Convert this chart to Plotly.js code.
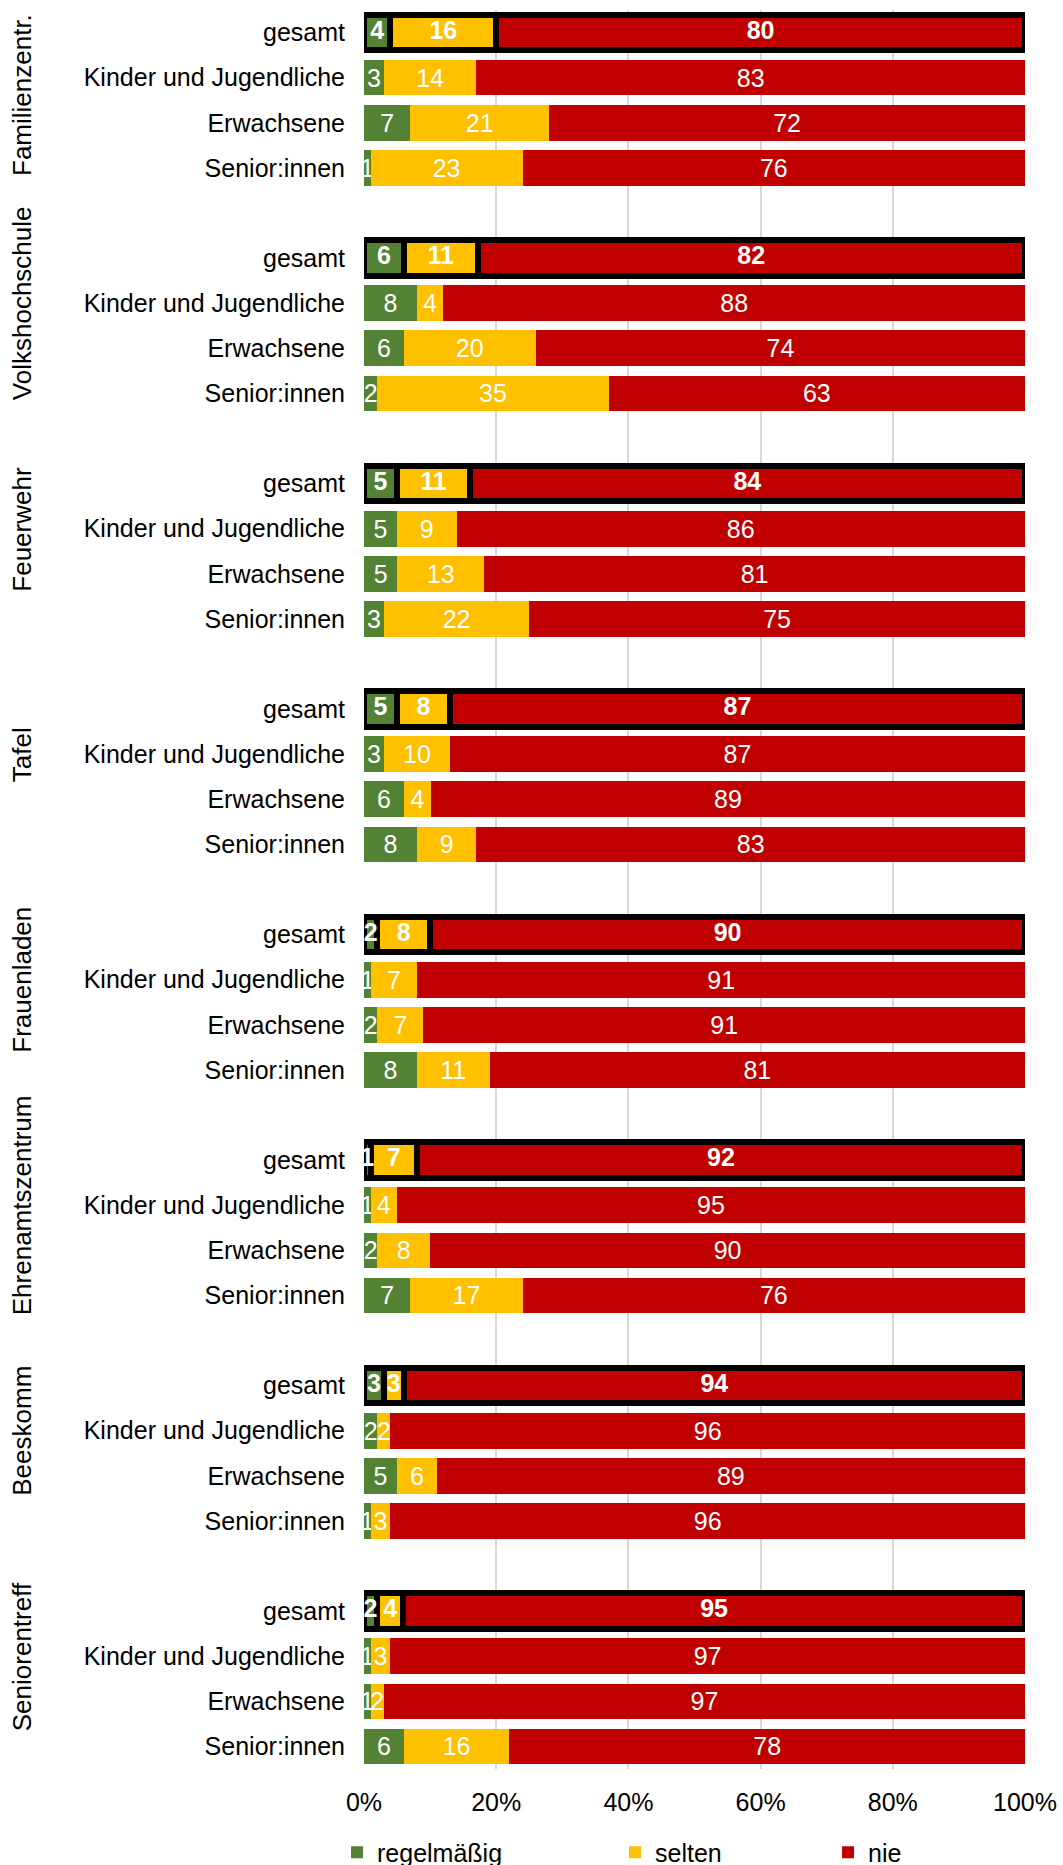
<!DOCTYPE html>
<html>
<head>
<meta charset="utf-8">
<script src="https://cdn.plot.ly/plotly-3.0.1.min.js"></script>
<style>html,body{margin:0;padding:0;background:#fff;}#chart{width:1063px;height:1865px;}</style>
</head>
<body>
<div id="chart"></div>
<script>
// ---- data ----
const groups = ['Familienzentr.', 'Volkshochschule', 'Feuerwehr', 'Tafel', 'Frauenladen', 'Ehrenamtszentrum', 'Beeskomm', 'Seniorentreff'];
const rowLabels = ['gesamt', 'Kinder und Jugendliche', 'Erwachsene', 'Senior:innen'];
const seriesNames = ['regelmäßig', 'selten', 'nie'];
const regelmaessig = [[4,3,7,1],[6,8,6,2],[5,5,5,3],[5,3,6,8],[2,1,2,8],[1,1,2,7],[3,2,5,1],[2,1,1,6]];
const selten       = [[16,14,21,23],[11,4,20,35],[11,9,13,22],[8,10,4,9],[8,7,7,11],[7,4,8,17],[3,2,6,3],[4,3,2,16]];
const nie          = [[80,83,72,76],[82,88,74,63],[84,86,81,75],[87,87,89,83],[90,91,91,81],[92,95,90,76],[94,96,89,96],[95,97,97,78]];
const xTickVals = [0, 20, 40, 60, 80, 100];
const xTickText = ['0%', '20%', '40%', '60%', '80%', '100%'];

// ---- styles ----
const FONT = 'Liberation Sans, Arial, sans-serif';
const FS = 25;
const colors = ['#548235', '#FFC000', '#C00000'];
const seriesData = [regelmaessig, selten, nie];
const SLOTS_PER_GROUP = 5;

function pos(g, r) { return g * SLOTS_PER_GROUP + r; }

const tickvals = [], ticktext = [];
groups.forEach((g, gi) => rowLabels.forEach((r, ri) => { tickvals.push(pos(gi, ri)); ticktext.push(r); }));

const traces = [];
const legendIds = ['legend', 'legend2', 'legend3'];
// normal rows
seriesData.forEach((data, si) => {
  const x = [], y = [], t = [];
  data.forEach((row, gi) => row.forEach((v, ri) => {
    if (ri === 0) return;
    x.push(v); y.push(pos(gi, ri)); t.push(String(v));
  }));
  traces.push({
    type: 'bar', orientation: 'h', name: seriesNames[si], x: x, y: y, text: t,
    texttemplate: '%{text}', textposition: 'inside', insidetextanchor: 'middle',
    textangle: 0, constraintext: 'none', cliponaxis: false,
    textfont: {family: FONT, size: FS, color: '#FFFFFF'},
    marker: {color: colors[si], line: {width: 0}},
    legend: legendIds[si], hoverinfo: 'skip'
  });
});
// "gesamt" rows with black frame
seriesData.forEach((data, si) => {
  const x = [], y = [];
  data.forEach((row, gi) => { x.push(row[0]); y.push(pos(gi, 0)); });
  traces.push({
    type: 'bar', orientation: 'h', name: seriesNames[si], x: x, y: y,
    marker: {color: colors[si], line: {width: 6, color: '#000000'}},
    showlegend: false, hoverinfo: 'skip'
  });
});
// bold labels of the "gesamt" rows, placed on top of the frames (centre of each normalised segment)
{
  const x = [], y = [], t = [];
  groups.forEach((g, gi) => {
    const vals = seriesData.map(d => d[gi][0]);
    const total = vals.reduce((a, b) => a + b, 0);
    let cum = 0;
    vals.forEach(v => {
      x.push((cum + v / 2) / total * 100); y.push(pos(gi, 0)); t.push('<b>' + v + '</b>');
      cum += v;
    });
  });
  traces.push({
    type: 'scatter', mode: 'text', x: x, y: y, text: t, textposition: 'middle center',
    textfont: {family: FONT, size: FS, color: '#FFFFFF'}, cliponaxis: false,
    showlegend: false, hoverinfo: 'skip'
  });
}

const annotations = groups.map((g, gi) => {
  const first = gi === 0;
  return {
    text: g, xref: 'paper', yref: 'y', x: -0.5174,
    y: first ? -0.5 : pos(gi, 1),
    yanchor: first ? 'top' : 'middle', yshift: first ? -2 : 0,
    xanchor: 'center', textangle: -90, showarrow: false,
    font: {family: FONT, size: 26, color: '#000000'}
  };
});

function legendAt(x) {
  return {x: x, y: -0.0474, xanchor: 'left', yanchor: 'middle', orientation: 'h',
    bgcolor: 'rgba(0,0,0,0)', font: {family: FONT, size: FS, color: '#000000'}};
}

const layout = {
  width: 1063, height: 1865,
  margin: {l: 364, r: 38, t: 9.5, b: 95.5, autoexpand: false},
  paper_bgcolor: '#FFFFFF', plot_bgcolor: '#FFFFFF',
  barmode: 'stack', barnorm: 'percent', bargap: 0.21,
  font: {family: FONT, size: FS, color: '#000000'},
  xaxis: {range: [0, 100.0001], tickmode: 'array', tickvals: xTickVals, ticktext: xTickText, showgrid: true,
    gridcolor: '#D9D9D9', gridwidth: 2, zeroline: false, showline: false, ticks: '',
    ticklabelstandoff: 16, tickfont: {family: FONT, size: FS, color: '#000000'}, fixedrange: true},
  yaxis: {range: [38.5, -0.5], tickmode: 'array', tickvals: tickvals, ticktext: ticktext, showgrid: false,
    zeroline: false, showline: false, ticks: '', ticklabelstandoff: 18,
    tickfont: {family: FONT, size: FS, color: '#000000'}, fixedrange: true},
  legend: legendAt(-0.0408), legend2: legendAt(0.3797), legend3: legendAt(0.7020),
  annotations: annotations, showlegend: true
};

Plotly.newPlot('chart', traces, layout, {displayModeBar: false, staticPlot: true});
</script>
</body>
</html>
